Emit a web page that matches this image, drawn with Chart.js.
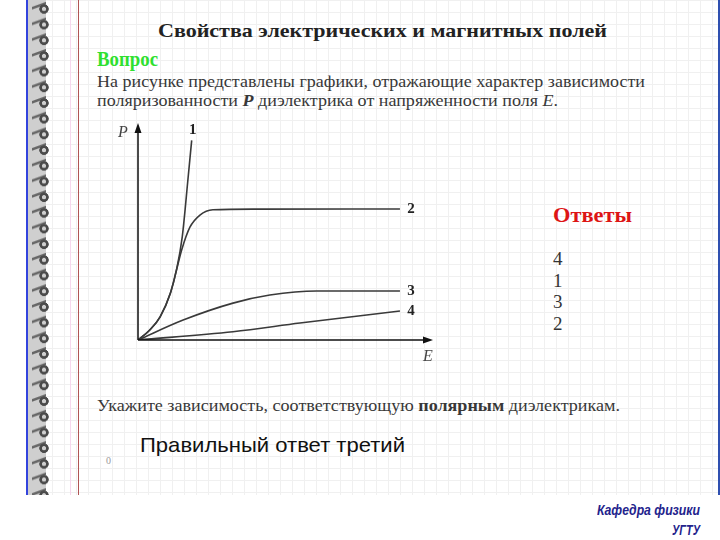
<!DOCTYPE html>
<html>
<head>
<meta charset="utf-8">
<script src="https://cdn.jsdelivr.net/npm/chart.js@4"></script>
<style>
  html, body { margin: 0; padding: 0; background: #fff; }
  body { width: 720px; height: 540px; position: relative; overflow: hidden; font-family: "Liberation Serif", serif; }
  #page {
    position: absolute; left: 26px; top: 0; width: 690px; height: 495px;
    background-color: #fff;
    background-image:
      linear-gradient(to right, #f0f0f0 1px, transparent 1px),
      linear-gradient(to bottom, #f0f0f0 1px, transparent 1px);
    background-size: 12px 12px;
    border-left: 2px solid #3344dd;
    border-right: 3px solid #2f4fb0;
  }
  #spiral {
    position: absolute; left: 28px; top: 0; width: 24px; height: 495px;
    background-image:
      radial-gradient(circle at 16px 9px, transparent 1.8px, #4a4a4a 2.4px, #4a4a4a 4.4px, transparent 5px),
      linear-gradient(160deg, transparent 6px, #666 7px, #666 8.5px, transparent 9.5px),
      linear-gradient(to right, #cfcfcf 18px, transparent 18px);
    background-size: 24px 15.7px, 14px 15.7px, 24px 495px;
    background-repeat: repeat, repeat-y, no-repeat;
    background-position: 0 0, 4px 0, 0 0;
  }
  #pink { position: absolute; left: 70px; top: 0; width: 1px; height: 495px; background: #f6d8ee; }
  #margin { position: absolute; left: 78px; top: 0; width: 1px; height: 495px; background: #b05555; }
  .t { position: absolute; white-space: nowrap; transform-origin: 0 50%; line-height: 1; }
  #chartBox { position: absolute; left: 100px; top: 110px; width: 340px; height: 260px; }
</style>
</head>
<body>
<div id="page"></div>
<div id="spiral"></div>
<div id="pink"></div>
<div id="margin"></div>

<div class="t" data-w="449" style="left:158px; top:21px; font-size:19px; font-weight:bold; color:#222;">Свойства электрических и магнитных полей</div>
<div class="t" data-w="61" style="left:97px; top:49px; font-size:21px; font-weight:bold; color:#2fe02f;">Вопрос</div>
<div class="t" data-w="548" style="left:97px; top:73px; font-size:17px; color:#383838;">На рисунке представлены графики, отражающие характер зависимости</div>
<div class="t" data-w="461" style="left:97px; top:92px; font-size:17px; color:#383838;">поляризованности <b><i>P</i></b> диэлектрика от напряженности поля <i>E</i>.</div>

<div class="t" data-w="79" style="left:553px; top:205px; font-size:21px; font-weight:bold; color:#dd1515;">Ответы</div>
<div class="t" style="left:553px; top:249px; font-size:19px; color:#333;">4</div>
<div class="t" style="left:553px; top:271px; font-size:19px; color:#333;">1</div>
<div class="t" style="left:553px; top:292px; font-size:19px; color:#333;">3</div>
<div class="t" style="left:553px; top:314px; font-size:19px; color:#333;">2</div>

<div class="t" data-w="523" style="left:97px; top:398px; font-size:16px; color:#383838;">Укажите зависимость, соответствующую <b>полярным</b> диэлектрикам.</div>
<div class="t" data-w="265" style="left:140px; top:434px; font-size:21px; color:#111; font-family:'Liberation Sans', Arial, sans-serif;">Правильный ответ третий</div>
<div class="t" style="left:106px; top:456px; font-size:10px; color:#999;">0</div>

<div class="t" data-w="103" style="left:597px; top:502px; font-size:15px; font-weight:bold; font-style:italic; color:#23238c; font-family:'Liberation Sans Narrow', 'Liberation Sans', sans-serif;">Кафедра физики</div>
<div class="t" data-w="28" style="left:672px; top:522px; font-size:15px; font-weight:bold; font-style:italic; color:#23238c; font-family:'Liberation Sans Narrow', 'Liberation Sans', sans-serif;">УГТУ</div>

<div id="chartBox"><canvas id="chart" width="340" height="260"></canvas></div>

<script>
// values: E (x) and P (y), both on a 0..100 scale
const E1 = [0, 4, 7.5, 11, 13, 15, 17, 18.2];
const P1 = [0, 4.6, 10.7, 21.7, 32, 47.5, 75, 92];
const E2 = [0, 4, 7.5, 11, 13, 14.8, 17.6, 21, 25.4, 40, 88.8];
const P2 = [0, 4.6, 10.7, 21.7, 32, 41.5, 52, 57.6, 60, 60.3, 60.4];
const E3 = [0, 15.3, 32.2, 44.7, 60.6, 88.8];
const P3 = [0, 9.2, 17, 20.7, 22.6, 22.6];
const E4 = [0, 32.2, 54.9, 88.8];
const P4 = [0, 3.8, 7.8, 13.4];
const curveNames = ["1", "2", "3", "4"];
const axisNames  = ["P", "E"];

// stretch each text line to the width it has in the slide
document.querySelectorAll(".t[data-w]").forEach(el => {
  const w = el.getBoundingClientRect().width;
  el.style.transform = "scaleX(" + (Number(el.dataset.w) / w) + ")";
});

function pts(xs, ys) { return xs.map((x, i) => ({ x: x, y: ys[i] })); }

const series = [pts(E1, P1), pts(E2, P2), pts(E3, P3), pts(E4, P4)];

// arrows, axis letters and curve numbers
const axesPlugin = {
  id: "axesPlugin",
  afterDatasetsDraw(chart) {
    const c  = chart.ctx;
    const sx = chart.scales.x, sy = chart.scales.y;
    const x0 = sx.getPixelForValue(0), y0 = sy.getPixelForValue(0);
    const xt = sx.getPixelForValue(100), yt = sy.getPixelForValue(100);
    c.save();
    c.strokeStyle = "#111"; c.fillStyle = "#111"; c.lineWidth = 1.5;
    c.beginPath();
    c.moveTo(x0, y0); c.lineTo(x0, yt + 6);
    c.moveTo(x0, y0); c.lineTo(xt - 6, y0);
    c.stroke();
    c.beginPath();
    c.moveTo(x0, yt); c.lineTo(x0 - 3.5, yt + 10); c.lineTo(x0 + 3.5, yt + 10); c.closePath();
    c.moveTo(xt, y0); c.lineTo(xt - 10, y0 - 3.5); c.lineTo(xt - 10, y0 + 3.5); c.closePath();
    c.fill();

    c.fillStyle = "#444";
    c.font = "italic 16px 'Liberation Serif', serif";
    c.textAlign = "center"; c.textBaseline = "middle";
    c.fillText(axisNames[0], x0 - 15, yt + 10);
    c.fillText(axisNames[1], xt - 5, y0 + 17);

    c.fillStyle = "#222";
    c.font = "bold 15px 'Liberation Serif', serif";
    series.forEach((s, i) => {
      const last = s[s.length - 1];
      const px = sx.getPixelForValue(last.x), py = sy.getPixelForValue(last.y);
      if (i === 0) c.fillText(curveNames[i], px + 1, py - 10);
      else c.fillText(curveNames[i], px + 11, py);
    });
    c.restore();
  }
};

new Chart(document.getElementById("chart").getContext("2d"), {
  type: "line",
  data: {
    datasets: series.map((s, i) => ({
      label: curveNames[i],
      data: s,
      borderColor: "#3a3a3a",
      borderWidth: 1.6,
      pointRadius: 0,
      fill: false,
      cubicInterpolationMode: "monotone"
    }))
  },
  options: {
    responsive: false,
    animation: false,
    layout: { padding: { left: 38, top: 13, right: 7, bottom: 30 } },
    plugins: { legend: { display: false }, tooltip: { enabled: false } },
    scales: {
      x: { type: "linear", min: 0, max: 100, display: false },
      y: { type: "linear", min: 0, max: 100, display: false }
    }
  },
  plugins: [axesPlugin]
});
</script>
</body>
</html>
